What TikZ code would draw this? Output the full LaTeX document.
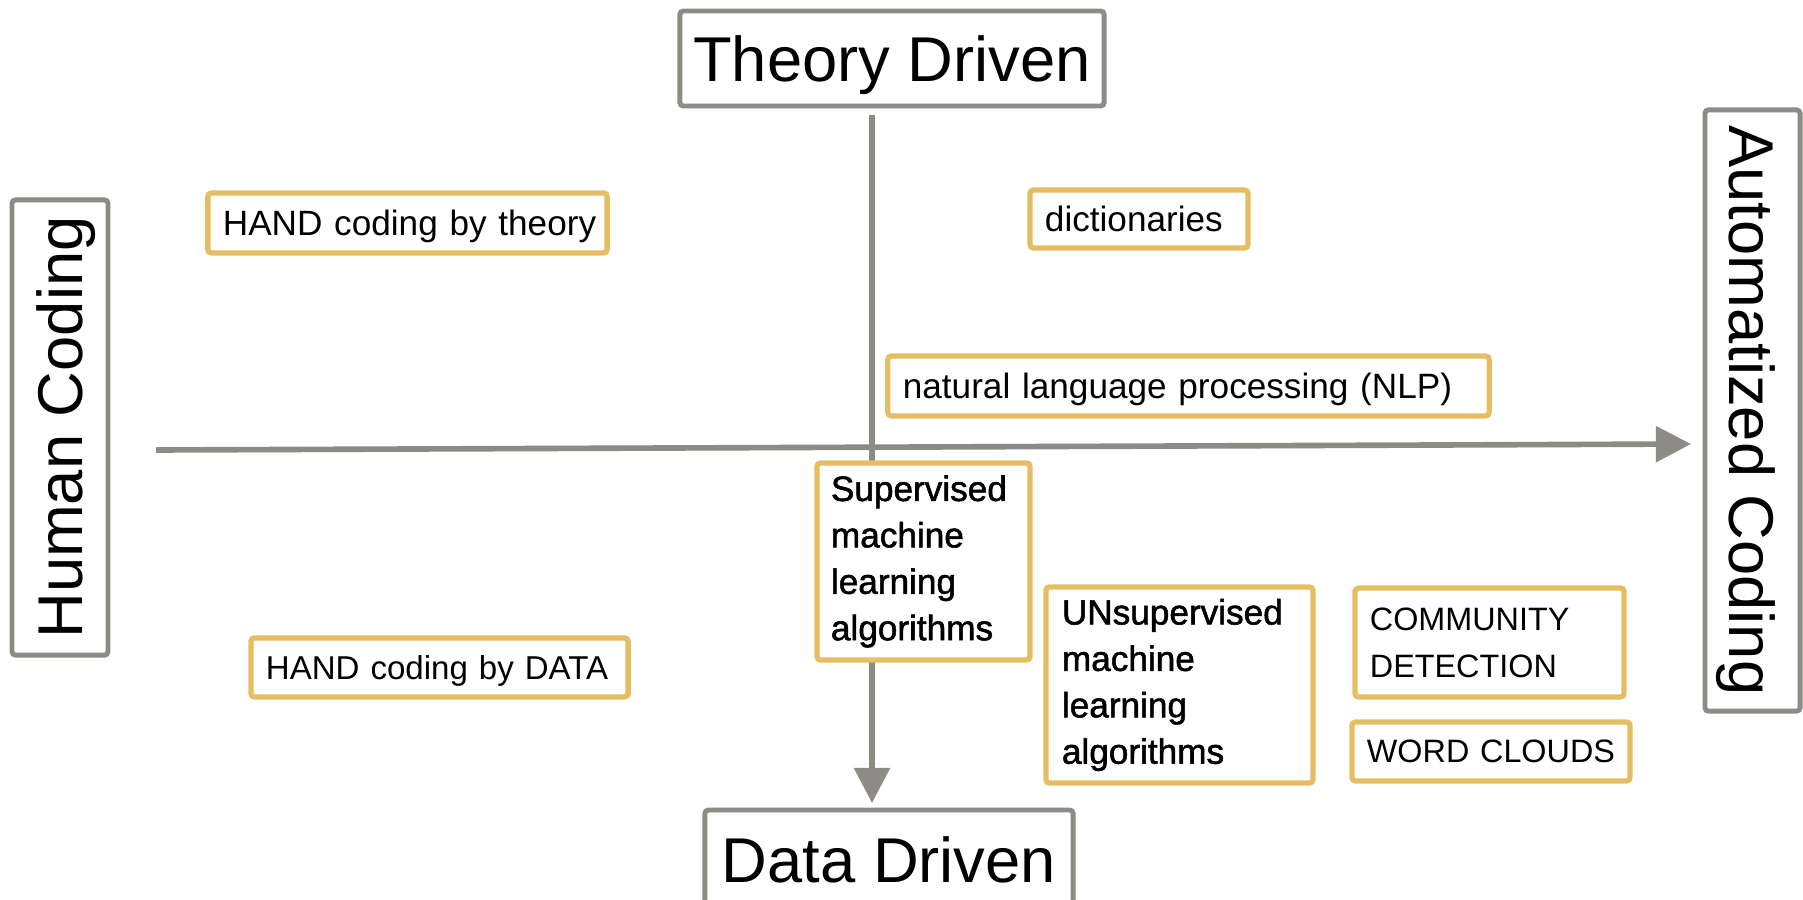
\documentclass[tikz,border=0pt]{standalone}
\usepackage{fontspec}
\setmainfont{Liberation Sans}
\newfontfamily\medfont[FakeBold=1.5]{Liberation Sans}
\usetikzlibrary{arrows.meta}

\definecolor{axisgray}{RGB}{140,140,132}
\definecolor{boxgold}{RGB}{229,190,99}

\tikzset{
  axisbox/.style={draw=axisgray, line width=1.4pt, fill=white, rounded corners=1pt,
    inner sep=0pt, font=\fontsize{18}{22}\selectfont},
  ideabox/.style={draw=boxgold, line width=1.5pt, fill=white, rounded corners=1pt,
    align=left, inner xsep=1.5mm, inner ysep=0pt, font=\fontsize{10}{13}\selectfont},
  onelinebox/.style={ideabox, text depth=0pt},
  capsbox/.style={ideabox, font=\fontsize{9.2}{13.3}\selectfont},
  mlbox/.style={ideabox, font=\fontsize{10}{13.2}\medfont},
  axisline/.style={draw=axisgray, line width=1.6pt, -{Triangle[width=10pt,length=10pt]}}
}

\begin{document}
\begin{tikzpicture}[x=0.01cm, y=-0.01cm]
   \useasboundingbox (0,0) rectangle (1803,900);

   % the two axes
   \coordinate (vtop) at (872,115);
   \coordinate (vbot) at (872,803);
   \coordinate (hleft) at (156,450);
   \coordinate (hright) at (1691,444);
   \draw[axisline] (vtop) -- (vbot);
   \draw[axisline] (hleft) -- (hright);

   % axis labels
   \node[axisbox, text depth=0pt, minimum width=42.4mm, minimum height=9.5mm] (theory) at (892,58.5) {Theory Driven};
   \node[axisbox, minimum width=36.8mm, minimum height=10mm] (data) at (889,860) {Data Driven};
   \node[axisbox, text depth=0pt, rotate=90, minimum width=45.5mm, minimum height=9.6mm] (human) at (60,427.5) {Human Coding};
   \node[axisbox, text depth=0pt, rotate=-90, minimum width=60.1mm, minimum height=9.5mm] (auto) at (1752.5,410.5) {Automatized Coding};

   % methods
   \node[onelinebox, text width=36.9mm, minimum height=6mm] (handtheory) at (407.5,223) {\mbox{HAND coding by theory}};
   \node[onelinebox, text width=18.8mm, minimum height=5.8mm] (dict) at (1139,219) {\mbox{dictionaries}};
   \node[onelinebox, text width=57.1mm, minimum height=6mm] (nlp) at (1188.5,386) {\mbox{natural language processing (NLP)}};
   \node[mlbox, inner xsep=1.4mm, text width=18.5mm, minimum height=19.7mm] (sup) at (923.5,561.5)
      {Supervised\\machine\\learning\\algorithms};
   \node[mlbox, inner xsep=1.6mm, text width=23.5mm, minimum height=19.6mm] (unsup) at (1179.5,685)
      {UNsupervised\\machine\\learning\\algorithms};
   \node[capsbox, text width=23.9mm, minimum height=10.9mm] (comm) at (1489.5,642.5) {COMMUNITY\\DETECTION};
   \node[onelinebox, text width=24.8mm, minimum height=5.9mm, font=\fontsize{9.2}{13}\selectfont] (word) at (1491,751.5) {\mbox{WORD CLOUDS}};
   \node[onelinebox, text width=34.7mm, minimum height=5.9mm, font=\fontsize{9.4}{13}\selectfont] (handdata) at (439.5,667.5) {\mbox{HAND coding by DATA}};
\end{tikzpicture}
\end{document}
